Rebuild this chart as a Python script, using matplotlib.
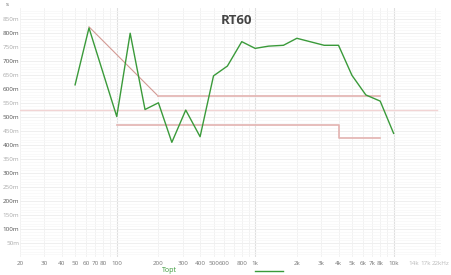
"""RT60 chart with tolerance band."""
import matplotlib
matplotlib.use("Agg")
import matplotlib.pyplot as plt
from matplotlib.ticker import FixedLocator, NullFormatter

# measured RT60 (s) per 1/3 octave band
freqs = [50, 63, 100, 125, 160, 200, 250, 315, 400, 500, 630, 800,
         1000, 1250, 1600, 2000, 3150, 4000, 5000, 6300, 8000, 10000]
rt60 = [0.615, 0.818, 0.502, 0.799, 0.527, 0.551, 0.410, 0.525, 0.430,
        0.647, 0.682, 0.769, 0.745, 0.753, 0.756, 0.781, 0.756, 0.756,
        0.649, 0.579, 0.557, 0.442]

# tolerance limits
upper_slope_f = [63, 200]
upper_slope_v = [0.822, 0.574]
upper_flat_f = [200, 8000]
upper_flat_v = [0.574, 0.574]
lower_f = [100, 4000, 4000, 8000]
lower_v = [0.472, 0.472, 0.424, 0.424]
topt = 0.525

xtick_pos = [20, 30, 40, 50, 60, 70, 80, 100, 200, 300, 400, 500, 600, 800,
             1000, 2000, 3000, 4000, 5000, 6000, 7000, 8000, 10000,
             14000, 17000, 22000]
xtick_lab = ["20", "30", "40", "50", "60", "70", "80", "100", "200", "300",
             "400", "500", "600", "800", "1k", "2k", "3k", "4k", "5k", "6k",
             "7k", "8k", "10k", "14k", "17k", "22kHz"]
ytick_pos = [0.05 * i for i in range(1, 18)]
ytick_lab = [f"{int(round(v * 1000))}m" for v in ytick_pos]

plt.rcParams["font.family"] = ["Open Sans", "DejaVu Sans"]

W, H = 451, 275
fig = plt.figure(figsize=(W / 100, H / 100), dpi=100)
ax = fig.add_axes([20 / W, (H - 257.3) / H, 421 / W, 249.3 / H])
ax.set_xscale("log")
ax.set_xlim(20, 22000)
ax.set_ylim(0, 0.889)

# grid
minor_x = [f * m for f in (10, 100, 1000, 10000) for m in range(2, 10)]
minor_x = [v for v in minor_x if 20 <= v <= 22000]
for v in minor_x:
    ax.axvline(v, color="#f0f0f0", lw=0.6, zorder=0)
for v in (100, 1000, 10000):
    ax.axvline(v, color="#e0e0e0", lw=0.8, zorder=0)
for i in range(1, 89):
    ax.axhline(i * 0.01, color="#f7f7f7", lw=0.5, zorder=0)
for v in ytick_pos:
    ax.axhline(v, color="#eeeeee", lw=0.6, zorder=0)

for s in ax.spines.values():
    s.set_visible(False)

ax.xaxis.set_minor_formatter(NullFormatter())
ax.xaxis.set_minor_locator(FixedLocator([]))
ax.set_xticks(xtick_pos)
ax.set_xticklabels(xtick_lab)
ax.set_yticks(ytick_pos)
ax.set_yticklabels(ytick_lab)
ax.tick_params(length=0, labelsize=4.5)
ax.tick_params(axis="y", pad=0.5)
ax.tick_params(axis="x", pad=3)
for lab, v in zip(ax.get_xticklabels(), xtick_pos):
    lab.set_color("#bbbbbb" if v > 10000 else "#777777")
for i, lab in enumerate(ax.get_yticklabels()):
    lab.set_color("#555555" if i % 2 == 1 else "#aaaaaa")

ax.axhline(topt, xmin=0, xmax=0.9895, color="#f2d4d4", lw=1.0, zorder=1)
ax.plot(upper_slope_f, upper_slope_v, color="#d39a94", lw=0.8, zorder=2)
ax.plot(upper_flat_f, upper_flat_v, color="#e3b3b0", lw=1.2, zorder=2)
ax.plot(lower_f, lower_v, color="#e3b3b0", lw=1.2, zorder=2)
ax.plot(freqs, rt60, color="#3a9a3a", lw=1.0, zorder=3)

fig.text(236 / W, 1 - 20 / H, "RT60", ha="center", va="center",
         fontsize=9.5, fontweight="bold", color="#444444")
fig.text(7 / W, 1 - 5 / H, "s", ha="center", va="center",
         fontsize=4.5, color="#666666")
fig.text(169 / W, 1 - 271 / H, "Topt", ha="center", va="center",
         fontsize=5, color="#3a9a3a")
fig.add_artist(plt.Line2D([255 / W, 283 / W], [1 - 271 / H, 1 - 271 / H],
                          color="#3a9a3a", lw=1.0))

fig.savefig("out.png", dpi=100)
